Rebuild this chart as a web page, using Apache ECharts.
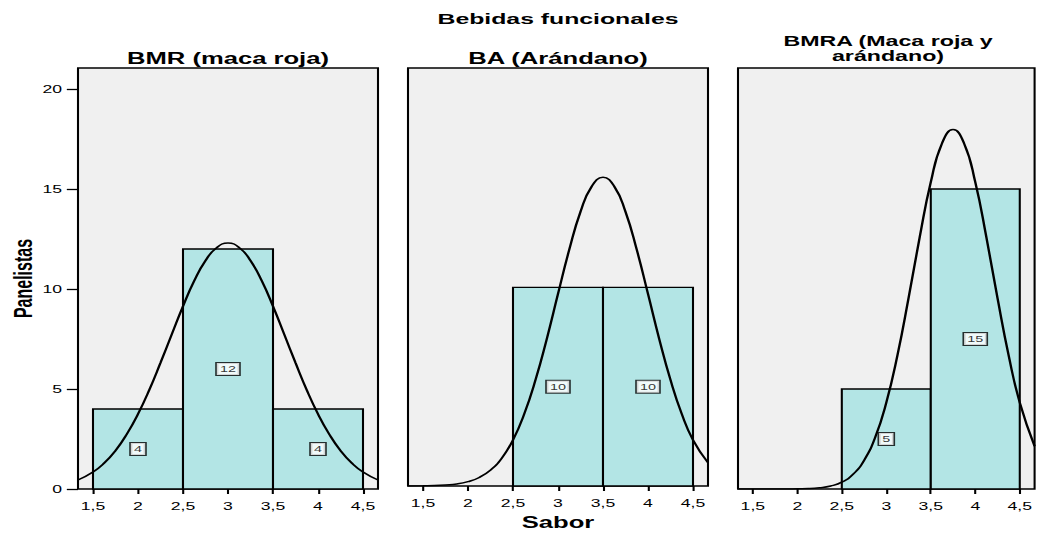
<!DOCTYPE html>
<html>
<head>
<meta charset="UTF-8">
<title>Bebidas funcionales</title>
<style>
html,body{margin:0;padding:0;overflow:hidden;background:#fff;}
/* el original esta estirado en horizontal: se dibuja angosto y se escala */
#main{width:648.125px;height:536px;transform:scaleX(1.6);transform-origin:0 0;}
</style>
<script src="https://cdn.jsdelivr.net/npm/echarts@6.0.0/dist/echarts.min.js"></script>
</head>
<body>
<div id="main"></div>
<script type="text/javascript">
// ---- datos ----
var panelTitles = [['BMR (maca roja)'], ['BA (Arándano)'], ['BMRA (Maca roja y', 'arándano)']];
var binEdges = [1.5, 2.5, 3.5, 4.5];
var countsBMR = [4, 12, 4];
var countsBA = [0, 10, 10];
var countsBMRA = [0, 5, 15];
var xTicks = [1.5, 2, 2.5, 3, 3.5, 4, 4.5];
var yTicks = [0, 5, 10, 15, 20];
// curva normal
var curveX = [1.333, 1.5, 1.625, 1.75, 1.875, 2, 2.125, 2.25, 2.375, 2.5, 2.625, 2.75, 2.875, 3,
	3.125, 3.25, 3.375, 3.5, 3.625, 3.75, 3.875, 4, 4.125, 4.25, 4.375, 4.5, 4.667];
var curveBMR = [0.45, 0.85, 1.30, 1.92, 2.74, 3.75, 4.95, 6.31, 7.73, 9.14, 10.41, 11.42, 12.07, 12.30,
	12.07, 11.42, 10.41, 9.14, 7.73, 6.31, 4.95, 3.75, 2.74, 1.92, 1.30, 0.85, 0.45];
var curveBA = [0.00, 0.01, 0.02, 0.05, 0.10, 0.22, 0.43, 0.80, 1.40, 2.32, 3.63, 5.34, 7.40, 9.67,
	11.90, 13.81, 15.09, 15.55, 15.09, 13.81, 11.90, 9.67, 7.40, 5.34, 3.63, 2.32, 1.17];
var curveBMRA = [0.00, 0.00, 0.00, 0.00, 0.00, 0.01, 0.02, 0.06, 0.15, 0.34, 0.73, 1.43, 2.58, 4.32,
	6.68, 9.54, 12.58, 15.34, 17.27, 17.97, 17.27, 15.34, 12.58, 9.54, 6.68, 4.32, 2.14];

var allCounts = [countsBMR, countsBA, countsBMRA];
var allCurves = [curveBMR, curveBA, curveBMRA];

var font = 'Liberation Sans, Arial, sans-serif';
var xMin = 4 / 3, xMax = 14 / 3;
var yMax = 21.05;
var panelLeft = [48.75, 255, 461.25];
var panelW = 187.5;

function renderBar(params, api){
	var p0 = api.coord([api.value(0), 0]);
	var p1 = api.coord([api.value(1), api.value(2)]);
	return {
		type: 'rect',
		shape: {x: p0[0], y: p1[1], width: p1[0] - p0[0], height: p0[1] - p1[1]},
		style: {fill: '#b3e5e5', stroke: '#000', lineWidth: 1.3}
	};
}

var grids = [], xAxes = [], yAxes = [], series = [], graphics = [];

for(var i = 0; i < 3; i++){
	grids.push({
		show: true, left: panelLeft[i], top: 68, width: panelW, height: 421,
		backgroundColor: '#f0f0f0', borderColor: '#000', borderWidth: 1.3
	});
	xAxes.push({
		gridIndex: i, type: 'value', min: xMin, max: xMax,
		name: i == 1 ? 'Sabor' : '',
		nameLocation: 'middle', nameGap: 29,
		nameTextStyle: {color: '#000', fontSize: 16, fontWeight: 'bold', fontFamily: font},
		splitLine: {show: false},
		axisLine: {show: false},
		axisTick: {show: true, length: 5, customValues: xTicks, lineStyle: {color: '#000', width: 1.3}},
		axisLabel: {
			customValues: xTicks, margin: 12, color: '#000', fontSize: 11, fontFamily: font,
			formatter: function(v){ return String(v).replace('.', ','); }
		}
	});
	yAxes.push({
		gridIndex: i, type: 'value', min: 0, max: yMax,
		show: i == 0,
		name: 'Panelistas', nameLocation: 'middle', nameGap: 26, nameRotate: 90,
		nameTextStyle: {color: '#000', fontSize: 16, fontWeight: 'bold', fontFamily: font},
		splitLine: {show: false},
		axisLine: {show: false},
		axisTick: {show: true, length: 7, customValues: yTicks, lineStyle: {color: '#000', width: 1.3}},
		axisLabel: {customValues: yTicks, margin: 10, color: '#000', fontSize: 11, fontFamily: font}
	});

	var bars = [], labels = [], curve = [];
	var counts = allCounts[i];
	for(var k = 0; k < counts.length; k++){
		if(counts[k] > 0){
			bars.push([binEdges[k], binEdges[k + 1], counts[k]]);
			labels.push([(binEdges[k] + binEdges[k + 1]) / 2, counts[k] / 2, counts[k]]);
		}
	}
	for(var j = 0; j < curveX.length; j++){
		curve.push([curveX[j], allCurves[i][j]]);
	}

	series.push({
		type: 'custom', xAxisIndex: i, yAxisIndex: i,
		renderItem: renderBar, encode: {x: [0, 1], y: 2}, data: bars, z: 2
	});
	series.push({
		type: 'line', xAxisIndex: i, yAxisIndex: i, data: curve,
		smooth: true, showSymbol: false, clip: true, z: 3,
		lineStyle: {color: '#000', width: 1.5}
	});
	series.push({
		type: 'scatter', xAxisIndex: i, yAxisIndex: i, data: labels,
		symbolSize: 0, z: 4,
		label: {
			show: true, position: 'inside',
			formatter: function(p){ return p.value[2]; },
			color: '#000', fontSize: 9, fontFamily: font,
			backgroundColor: '#fff', borderColor: '#000', borderWidth: 1,
			padding: [2, 2, 1, 2]
		}
	});

	// titulo de cada panel (el tercero en dos lineas)
	var lines = panelTitles[i];
	var titleY = lines.length == 1 ? [58.3] : [40.5, 55.5];
	for(var t = 0; t < lines.length; t++){
		graphics.push({
			type: 'text', x: panelLeft[i] + panelW / 2, y: titleY[t],
			style: {
				text: lines[t], textAlign: 'center', textVerticalAlign: 'middle',
				font: 'bold ' + (lines.length == 1 ? 16 : 14.5) + 'px ' + font, fill: '#000'
			}
		});
	}
}

graphics.push({
	type: 'text', x: panelLeft[1] + panelW / 2, y: 18,
	style: {
		text: 'Bebidas funcionales', textAlign: 'center', textVerticalAlign: 'middle',
		font: 'bold 15.5px ' + font, fill: '#000'
	}
});

var myChart = echarts.init(document.getElementById('main'), null, {renderer: 'svg'});
myChart.setOption({
	animation: false,
	grid: grids,
	xAxis: xAxes,
	yAxis: yAxes,
	series: series,
	graphic: graphics
});
</script>
</body>
</html>
